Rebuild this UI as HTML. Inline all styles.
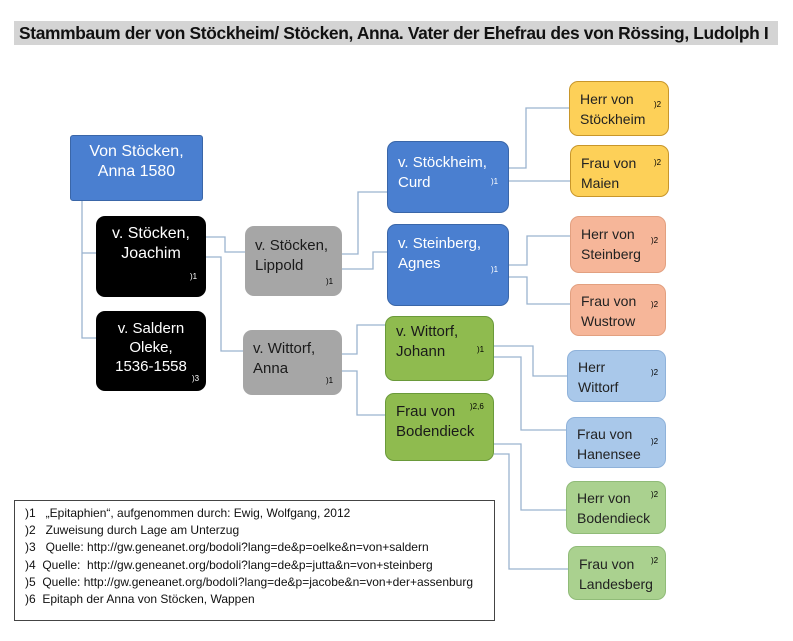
<!DOCTYPE html>
<html><head><meta charset="utf-8"><style>
body{margin:0;width:793px;height:641px;background:#fff;position:relative;overflow:hidden;font-family:"Liberation Sans",sans-serif}
.t{position:absolute;left:14px;top:21px;height:24px;width:764px;background:#d4d4d4;font-weight:bold;font-size:17.4px;line-height:24px;white-space:nowrap;letter-spacing:-0.35px;padding-left:5px;box-sizing:border-box;color:#111}
.b{position:absolute;box-sizing:border-box;border-radius:9px;font-size:15px;line-height:20px;padding:8px 10px}
.c{text-align:center}
.s{position:absolute;font-size:8px;line-height:8px}
.blue{background:#4a7fd0;color:#fff;border:1px solid #3a66a8}
.blk{background:#000;color:#fff}
.gray{background:#a6a6a6;color:#1a1a1a}
.grn{background:#8fbb4f;color:#1a1a1a;border:1px solid #6a9a3a}
.yel{background:#fdd058;color:#222;border:1px solid #c8962a;font-size:14px}
.sal{background:#f6b699;color:#222;border:1px solid #e2a080;font-size:14px}
.lb{background:#a9c8ea;color:#222;border:1px solid #8fb2da;font-size:14px}
.lg{background:#aad18f;color:#222;border:1px solid #90bb78;font-size:14px}
.leg{position:absolute;left:14px;top:500px;width:481px;height:121px;border:1px solid #444;box-sizing:border-box;font-size:12px;line-height:17.2px;padding:4px 0 0 10px;color:#111;white-space:nowrap}
</style></head><body>
<div class="t">Stammbaum der von Stöckheim/ Stöcken, Anna. Vater der Ehefrau des von Rössing, Ludolph I</div>
<svg width="793" height="641" style="position:absolute;left:0;top:0" fill="none" stroke="#9bb3cf" stroke-width="1.3">
<polyline points="82,201 82,338 96,338"/><line x1="82" y1="253" x2="96" y2="253"/>
<polyline points="206,237 225,237 225,252 245,252"/>
<polyline points="206,257 221,257 221,351 243,351"/>
<polyline points="342,254 358,254 358,192 387,192"/>
<polyline points="342,269 373,269 373,252 387,252"/>
<polyline points="342,354 357,354 357,325 385,325"/>
<polyline points="342,371 357,371 357,415 385,415"/>
<polyline points="509,168 526,168 526,108 569,108"/>
<polyline points="509,181 570,181"/>
<polyline points="509,265 527,265 527,236 570,236"/>
<polyline points="509,277 527,277 527,304 570,304"/>
<polyline points="494,346 533,346 533,376 567,376"/>
<polyline points="494,357 521,357 521,430 566,430"/>
<polyline points="494,444 521,444 521,510 566,510"/>
<polyline points="494,454 509,454 509,569 568,569"/>
</svg>
<div class="b blue c" style="left:70px;top:135px;width:133px;height:66px;border-radius:3px;font-size:16px;padding-top:6px">Von Stöcken,<br>Anna 1580</div>
<div class="b blk c" style="left:96px;top:216px;width:110px;height:81px;font-size:16px">v. Stöcken,<br>Joachim</div><div class="s" style="left:190px;top:273px;color:#fff">)1</div>
<div class="b blk c" style="left:96px;top:311px;width:110px;height:80px;padding-top:8px;line-height:19px">v. Saldern<br>Oleke,<br>1536-1558</div><div class="s" style="left:192px;top:375px;color:#fff">)3</div>
<div class="b gray" style="left:245px;top:226px;width:97px;height:70px;padding-top:10px">v. Stöcken,<br>Lippold</div><div class="s" style="left:326px;top:278px">)1</div>
<div class="b gray" style="left:243px;top:330px;width:99px;height:65px;padding-top:9px">v. Wittorf,<br>Anna</div><div class="s" style="left:326px;top:377px">)1</div>
<div class="b blue" style="left:387px;top:141px;width:122px;height:72px;padding-top:11px">v. Stöckheim,<br>Curd</div><div class="s" style="left:491px;top:178px;color:#fff">)1</div>
<div class="b blue" style="left:387px;top:224px;width:122px;height:82px;padding-top:9px">v. Steinberg,<br>Agnes</div><div class="s" style="left:491px;top:266px;color:#fff">)1</div>
<div class="b grn" style="left:385px;top:316px;width:109px;height:65px;padding-top:5px">v. Wittorf,<br>Johann</div><div class="s" style="left:477px;top:346px">)1</div>
<div class="b grn" style="left:385px;top:393px;width:109px;height:68px;padding-top:8px">Frau von<br>Bodendieck</div><div class="s" style="left:470px;top:403px">)2,6</div>
<div class="b yel" style="left:569px;top:81px;width:100px;height:55px;padding-top:7px">Herr von<br>Stöckheim</div><div class="s" style="left:654px;top:101px">)2</div>
<div class="b yel" style="left:570px;top:145px;width:99px;height:52px;padding-top:7px">Frau von<br>Maien</div><div class="s" style="left:654px;top:159px">)2</div>
<div class="b sal" style="left:570px;top:216px;width:96px;height:57px;padding-top:7px">Herr von<br>Steinberg</div><div class="s" style="left:651px;top:237px">)2</div>
<div class="b sal" style="left:570px;top:284px;width:96px;height:52px;padding-top:6px">Frau von<br>Wustrow</div><div class="s" style="left:651px;top:301px">)2</div>
<div class="b lb" style="left:567px;top:350px;width:99px;height:52px;padding-top:6px">Herr<br>Wittorf</div><div class="s" style="left:651px;top:369px">)2</div>
<div class="b lb" style="left:566px;top:417px;width:100px;height:51px;padding-top:6px">Frau von<br>Hanensee</div><div class="s" style="left:651px;top:438px">)2</div>
<div class="b lg" style="left:566px;top:481px;width:100px;height:53px;padding-top:6px">Herr von<br>Bodendieck</div><div class="s" style="left:651px;top:491px">)2</div>
<div class="b lg" style="left:568px;top:546px;width:98px;height:54px;padding-top:7px">Frau von<br>Landesberg</div><div class="s" style="left:651px;top:557px">)2</div>
<div class="leg">)1 &nbsp;&nbsp;„Epitaphien“, aufgenommen durch: Ewig, Wolfgang, 2012<br>)2 &nbsp;&nbsp;Zuweisung durch Lage am Unterzug<br>)3 &nbsp;&nbsp;Quelle: http://gw.geneanet.org/bodoli?lang=de&amp;p=oelke&amp;n=von+saldern<br>)4 &nbsp;Quelle: &nbsp;http://gw.geneanet.org/bodoli?lang=de&amp;p=jutta&amp;n=von+steinberg<br>)5 &nbsp;Quelle: http://gw.geneanet.org/bodoli?lang=de&amp;p=jacobe&amp;n=von+der+assenburg<br>)6 &nbsp;Epitaph der Anna von Stöcken, Wappen</div>
</body></html>
